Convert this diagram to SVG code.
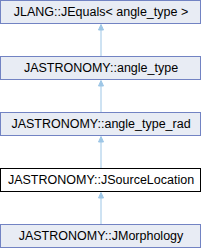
<svg xmlns="http://www.w3.org/2000/svg" width="202" height="248" viewBox="0 0 202 248">
<style>
.n rect{fill:#e8ecf4;stroke:#7283c3;stroke-width:1}
.n.cur rect{fill:#ffffff;stroke:#000000}
.n text{font-family:"Liberation Sans",Arial,sans-serif;font-size:12.5px;fill:#000;text-anchor:middle}
.e line{stroke:#9dc6e6;stroke-width:1}
.e polygon{fill:#9dc6e6;stroke:#9dc6e6;stroke-width:1}
</style>
<rect width="202" height="248" fill="#ffffff"/>
<g id="connectors" class="e">
<line x1="101" y1="30" x2="101" y2="56"/><polygon points="101,24.5 98.5,30 103.5,30"/>
<line x1="101" y1="86" x2="101" y2="112"/><polygon points="101,80.5 98.5,86 103.5,86"/>
<line x1="101" y1="142" x2="101" y2="168"/><polygon points="101,136.5 98.5,142 103.5,142"/>
<line x1="101" y1="198" x2="101" y2="224"/><polygon points="101,192.5 98.5,198 103.5,198"/>
</g>
<g id="n1" class="n"><rect x="0.5" y="0.5" width="200" height="23"/><text x="101" y="16">JLANG::JEquals&lt; angle_type &gt;</text></g>
<g id="n2" class="n"><rect x="0.5" y="56.5" width="200" height="23"/><text x="101" y="72">JASTRONOMY::angle_type</text></g>
<g id="n3" class="n"><rect x="0.5" y="112.5" width="200" height="23"/><text x="101" y="128">JASTRONOMY::angle_type_rad</text></g>
<g id="n4" class="n cur"><rect x="0.5" y="168.5" width="200" height="23"/><text x="101" y="184">JASTRONOMY::JSourceLocation</text></g>
<g id="n5" class="n"><rect x="0.5" y="224.5" width="200" height="23"/><text x="101" y="240">JASTRONOMY::JMorphology</text></g>
</svg>
